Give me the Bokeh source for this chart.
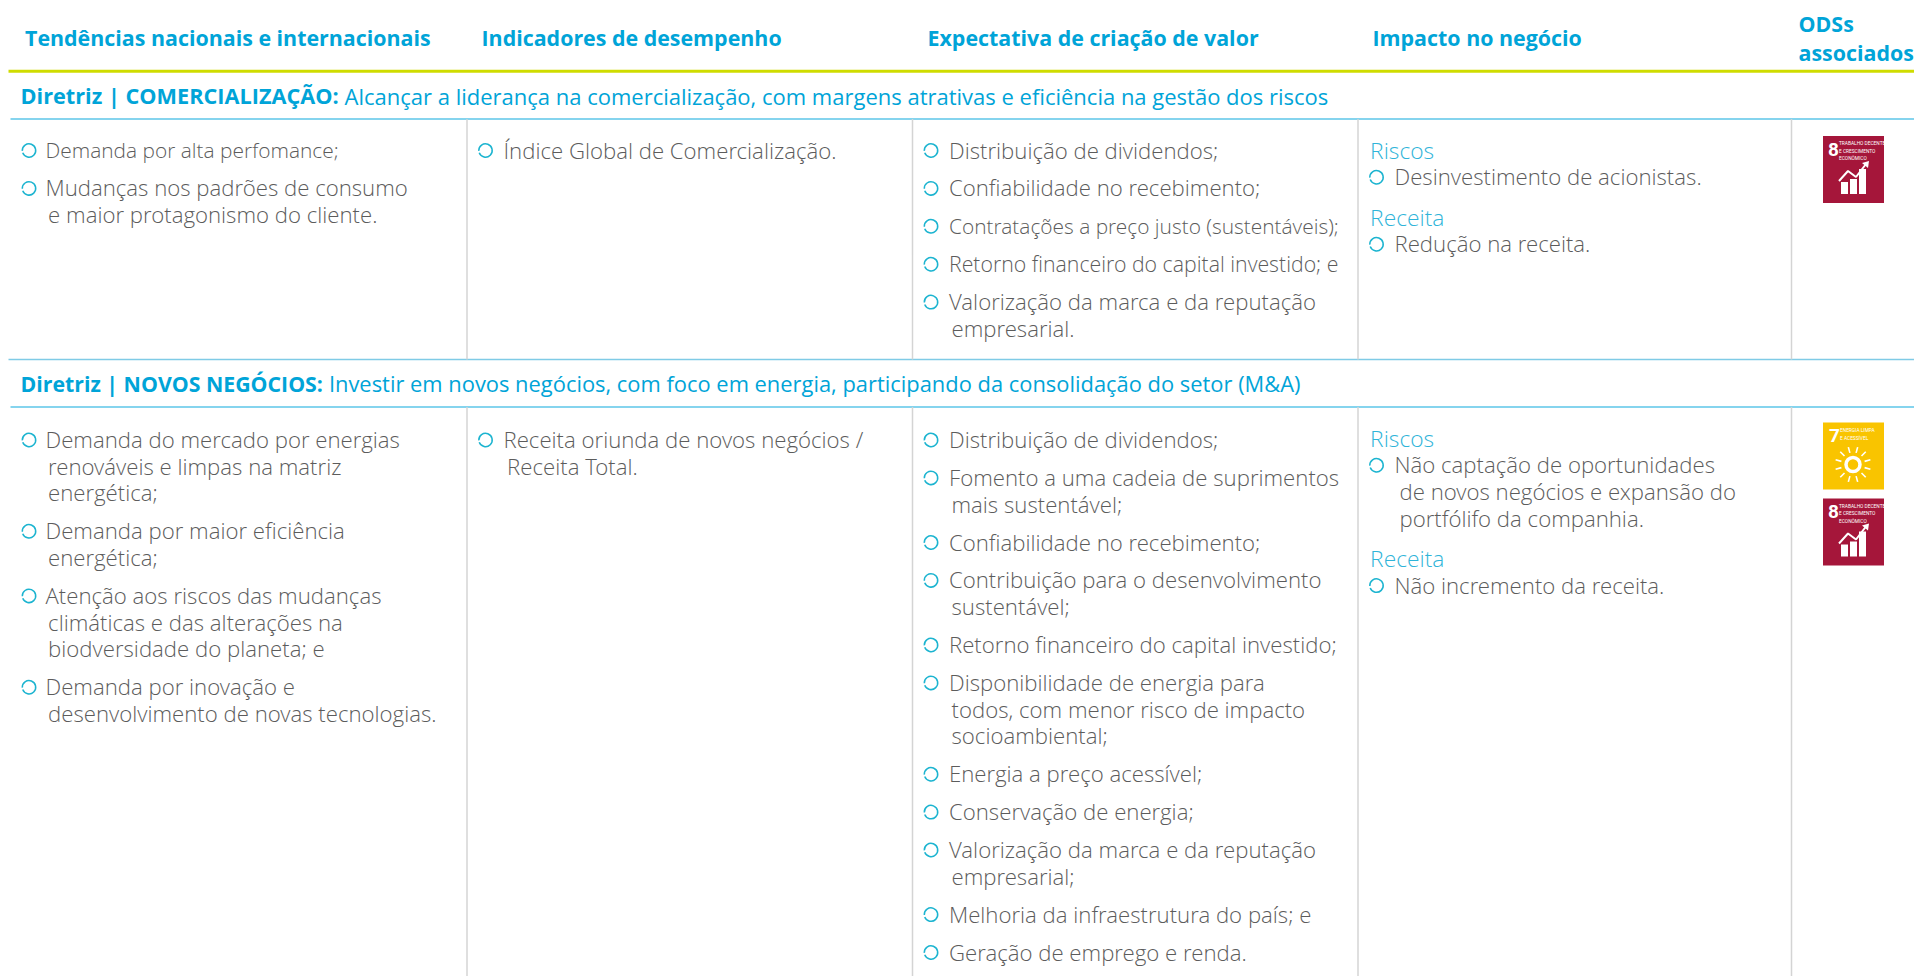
from math import cos, sin, pi
from bokeh.plotting import figure
from bokeh.embed import file_html
from bokeh.resources import INLINE
from bokeh.core.properties import value

# ---- content ----
headers = ["Tendências nacionais e internacionais", "Indicadores de desempenho",
           "Expectativa de criação de valor", "Impacto no negócio"]
header_ods = ["ODSs", "associados"]
sec1_bold = "Diretriz | COMERCIALIZAÇÃO:"
sec1_text = "Alcançar a liderança na comercialização, com margens atrativas e eficiência na gestão dos riscos"
sec2_bold = "Diretriz | NOVOS NEGÓCIOS:"
sec2_text = "Investir em novos negócios, com foco em energia, participando da consolidação do setor (M&A)"

s1_c1 = [["Demanda por alta perfomance;"],
         ["Mudanças nos padrões de consumo", "e maior protagonismo do cliente."]]
s1_c2 = [["Índice Global de Comercialização."]]
s1_c3 = [["Distribuição de dividendos;"], ["Confiabilidade no recebimento;"],
         ["Contratações a preço justo (sustentáveis);"], ["Retorno financeiro do capital investido; e"],
         ["Valorização da marca e da reputação", "empresarial."]]
s1_c4 = [("Riscos", ["Desinvestimento de acionistas."]), ("Receita", ["Redução na receita."])]

s2_c1 = [["Demanda do mercado por energias", "renováveis e limpas na matriz", "energética;"],
         ["Demanda por maior eficiência", "energética;"],
         ["Atenção aos riscos das mudanças", "climáticas e das alterações na", "biodversidade do planeta; e"],
         ["Demanda por inovação e", "desenvolvimento de novas tecnologias."]]
s2_c2 = [["Receita oriunda de novos negócios /", "Receita Total."]]
s2_c3 = [["Distribuição de dividendos;"], ["Fomento a uma cadeia de suprimentos", "mais sustentável;"],
         ["Confiabilidade no recebimento;"], ["Contribuição para o desenvolvimento", "sustentável;"],
         ["Retorno financeiro do capital investido;"],
         ["Disponibilidade de energia para", "todos, com menor risco de impacto", "socioambiental;"],
         ["Energia a preço acessível;"], ["Conservação de energia;"],
         ["Valorização da marca e da reputação", "empresarial;"],
         ["Melhoria da infraestrutura do país; e"], ["Geração de emprego e renda."]]
s2_c4 = [("Riscos", ["Não captação de oportunidades", "de novos negócios e expansão do", "portfólifo da companhia."]),
         ("Receita", ["Não incremento da receita."])]

sdg8_lines = ["TRABALHO DECENTE", "E CRESCIMENTO", "ECONÔMICO"]
sdg7_lines = ["ENERGIA LIMPA", "E ACESSÍVEL"]

# ---- style / layout ----
BLUE, GREY, GREEN, CYAN = "#00a4d8", "#5c5c5c", "#cfdc00", "#1cb4d0"
LINE_BLUE, VLINE = "#5cc6e8", "#d4d4d4"
FONT = value("Open Sans Light")
BOLD = value("Open Sans")
ICONF = value("Roboto")
BODY = "22.2px"
NARROW = {"Contratações a preço justo (sustentáveis);": "20.9px",
          "Retorno financeiro do capital investido; e": "21.3px",
          "Demanda por alta perfomance;": "20.9px"}
LINE_H, ITEM_H = 26.7, 37.9
COLS = [(28.5, 45, 47.6), (485, 503, 506.6), (930.5, 948.5, 951)]
VX = [466.5, 912, 1357.5, 1791]

p = figure(width=1914, height=976, x_range=(0, 1914), y_range=(976, 0),
           toolbar_location=None, output_backend="svg", min_border=0)
p.axis.visible = False
p.grid.visible = False
p.outline_line_color = None

def text(x, y, t, color=GREY, size=None, style="normal", font=None):
    p.text([x], [y], text=[t], text_color=color, text_font=font or FONT,
           text_font_size=size or NARROW.get(t, BODY),
           text_font_style=style, text_baseline="middle", text_align="left")

def hline(x0, x1, y, color, w):
    p.segment([x0], [y], [x1], [y], line_color=color, line_width=w)

def bullet(x, y):
    p.arc([x], [y], radius=6.7, start_angle=3.5, end_angle=3.2 + 2 * pi,
          line_color=CYAN, line_width=1.5)

def flow(col, items, y):
    bx, tx, cx = col
    for it in items:
        bullet(bx, y + 0.5)
        for i, ln in enumerate(it):
            text(tx if i == 0 else cx, y, ln)
            y += LINE_H
        y += ITEM_H - LINE_H

def flow4(groups, y):
    for head, lines in groups:
        text(1369.6, y, head, color="#2fb4d9", size="22.8px")
        y += LINE_H
        for i, ln in enumerate(lines):
            if i == 0:
                bullet(1376, y + 0.5)
            text(1394 if i == 0 else 1399, y, ln)
            y += LINE_H
        y += 40.3 - LINE_H

def sdg8(y0):
    x0 = 1822.5
    p.quad(left=[x0], right=[x0 + 61], top=[y0], bottom=[y0 + 67], fill_color="#a5163a", line_color=None)
    text(x0 + 5, y0 + 13, "8", color="white", size="19px", style="bold", font=ICONF)
    for i, ln in enumerate(sdg8_lines):
        text(x0 + 16, y0 + 7.5 + i * 7.6, ln, color="white", size="4.8px", font=ICONF)
    p.quad(left=[x0 + d for d in (18, 27, 36)], right=[x0 + d for d in (25, 34, 43)],
           top=[y0 + d for d in (46, 43, 33)], bottom=[y0 + 58] * 3, fill_color="white", line_color=None)
    p.line([x0 + d for d in (16, 25, 33, 43)], [y0 + d for d in (45, 35, 41, 28)], line_color="white", line_width=2)
    p.patch([x0 + d for d in (46, 39, 45)], [y0 + d for d in (25, 27, 32)], fill_color="white", line_color=None)

def sdg7(y0):
    x0 = 1822.5
    cx, cy = x0 + 30, y0 + 42
    p.quad(left=[x0], right=[x0 + 61], top=[y0], bottom=[y0 + 67], fill_color="#f9c400", line_color=None)
    text(x0 + 6, y0 + 13, "7", color="white", size="19px", style="bold", font=ICONF)
    for i, ln in enumerate(sdg7_lines):
        text(x0 + 17, y0 + 8 + i * 8, ln, color="white", size="4.8px", font=ICONF)
    angs = [k * pi / 6 + pi / 12 for k in range(12)]
    p.segment([cx + 12 * cos(a) for a in angs], [cy + 12 * sin(a) for a in angs],
              [cx + 18 * cos(a) for a in angs], [cy + 18 * sin(a) for a in angs],
              line_color="white", line_width=1.6)
    p.scatter([cx], [cy], marker="circle", size=14, fill_color="#f9c400", line_color="white", line_width=3.5)

# rules
hline(8, 1914, 70.8, GREEN, 3)
hline(10, 1914, 118.4, LINE_BLUE, 1.5)
hline(8, 1914, 359, "#7fcbe6", 1.5)
hline(10, 1914, 406.5, LINE_BLUE, 1.5)
for vx in VX:
    p.segment([vx, vx], [118.4, 406.5], [vx, vx], [359, 976], line_color=VLINE, line_width=1.5)

# headers
H = "21.4px"
for x, t in zip([24.5, 481, 927, 1372], headers):
    text(x, 37, t, color=BLUE, size=H, style="bold", font=BOLD)
text(1798, 22.5, header_ods[0], color=BLUE, size=H, style="bold", font=BOLD)
text(1798, 51.7, header_ods[1], color=BLUE, size=H, style="bold", font=BOLD)

# section titles
text(20, 95, sec1_bold, color=BLUE, size="21.7px", style="bold", font=BOLD)
text(344, 95, sec1_text, color=BLUE, size="22px", font=BOLD)
text(20, 383, sec2_bold, color=BLUE, size="21.3px", style="bold", font=BOLD)
text(328.4, 383, sec2_text, color=BLUE, size="21.9px", font=BOLD)

# body
flow(COLS[0], s1_c1, 149.5); flow(COLS[1], s1_c2, 149.5); flow(COLS[2], s1_c3, 149.5)
flow4(s1_c4, 149.5)
flow(COLS[0], s2_c1, 439); flow(COLS[1], s2_c2, 439); flow(COLS[2], s2_c3, 439)
flow4(s2_c4, 437.5)

sdg8(135.5); sdg7(422); sdg8(498)

open("out.html", "w").write(file_html(p, INLINE))
